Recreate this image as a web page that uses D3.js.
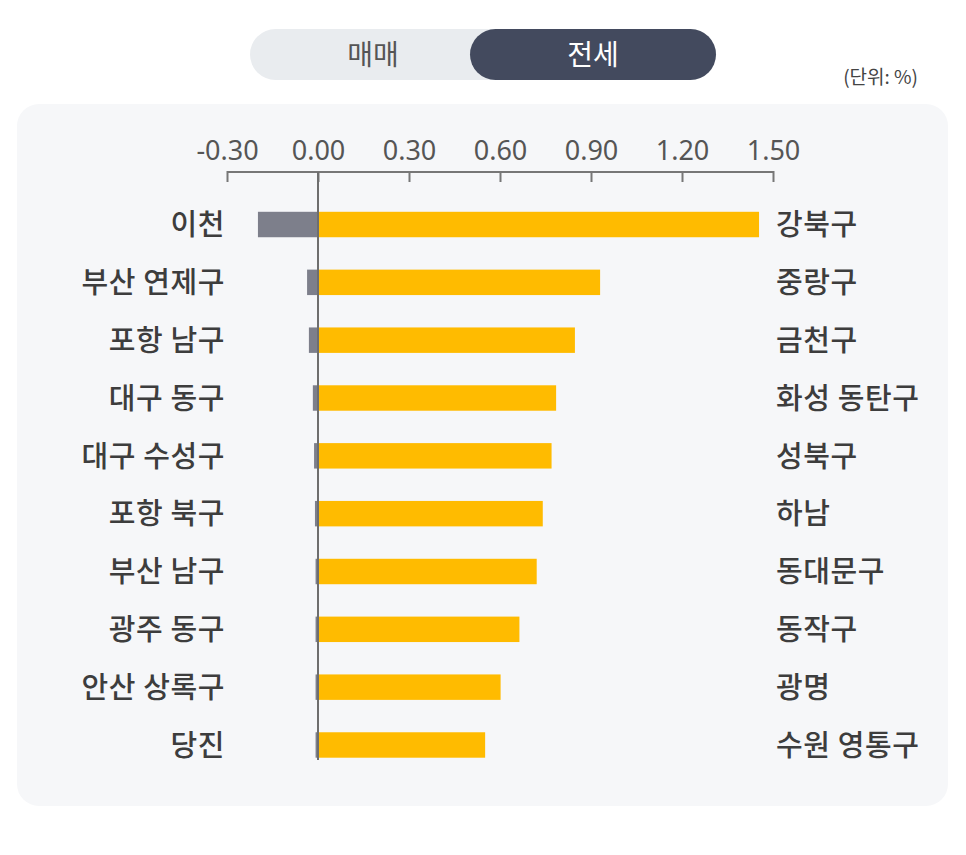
<!DOCTYPE html>
<html>
<head>
<meta charset="utf-8">
<script src="https://cdn.jsdelivr.net/npm/d3@7"></script>
<style>
  body { margin: 0; background: #fff; }
  svg { display: block; font-family: "Noto Sans CJK KR", "Noto Sans", sans-serif; }
</style>
</head>
<body>
<svg id="drawing_region"></svg>
<script>
// 전세 변동률 (%)
const leftNames = ["이천", "부산 연제구", "포항 남구", "대구 동구", "대구 수성구", "포항 북구", "부산 남구", "광주 동구", "안산 상록구", "당진"];
const leftValues = [-0.198, -0.036, -0.030, -0.017, -0.013, -0.010, -0.008, -0.008, -0.008, -0.008];
const rightNames = ["강북구", "중랑구", "금천구", "화성 동탄구", "성북구", "하남", "동대문구", "동작구", "광명", "수원 영통구"];
const rightValues = [1.454, 0.930, 0.847, 0.785, 0.770, 0.741, 0.721, 0.664, 0.602, 0.551];
const tickValues = [-0.30, 0.00, 0.30, 0.60, 0.90, 1.20, 1.50];
const tabs = ["매매", "전세"];
const unitLabel = "(단위: %)";

const config = {
    width: 966,
    height: 855
};

const svg = d3.select('#drawing_region')
    .attr('width', config.width)
    .attr('height', config.height);

// toggle
svg.append('rect')
    .attr('x', 250).attr('y', 29)
    .attr('width', 466).attr('height', 51)
    .attr('rx', 25.5)
    .attr('fill', '#e9ecef');

svg.append('rect')
    .attr('x', 470).attr('y', 29)
    .attr('width', 246).attr('height', 51)
    .attr('rx', 25.5)
    .attr('fill', '#434a5e');

svg.append('text')
    .attr('x', 373).attr('y', 65)
    .attr('text-anchor', 'middle')
    .attr('font-size', 28)
    .attr('fill', '#555')
    .text(tabs[0]);

svg.append('text')
    .attr('x', 593).attr('y', 65)
    .attr('text-anchor', 'middle')
    .attr('font-size', 28)
    .attr('fill', '#fff')
    .text(tabs[1]);

svg.append('text')
    .attr('x', 918).attr('y', 84)
    .attr('text-anchor', 'end')
    .attr('font-size', 19)
    .attr('fill', '#444')
    .text(unitLabel);

// panel
svg.append('rect')
    .attr('x', 17).attr('y', 104)
    .attr('width', 931).attr('height', 702)
    .attr('rx', 22)
    .attr('fill', '#f6f7f9');

const xscale = d3.scaleLinear()
    .domain([-0.30, 1.50])
    .range([227, 773]);

const yscale = d3.scaleBand()
    .domain(d3.range(leftNames.length))
    .range([195.6, 773.9])
    .paddingInner(0.56)
    .paddingOuter(0.28);

const xaxis = d3.axisTop(xscale)
    .tickValues(tickValues)
    .tickFormat(d => d.toFixed(2))
    .tickSize(0)
    .tickPadding(12);

const axisGroup = svg.append('g')
    .attr('transform', 'translate(0, 172)')
    .call(xaxis);

axisGroup.select('.domain').remove();
axisGroup.append('line')
    .attr('x1', xscale(-0.30)).attr('x2', xscale(1.50))
    .attr('stroke', '#777').attr('stroke-width', 2);
axisGroup.selectAll('.tick')
    .append('line')
    .attr('y1', -1).attr('y2', 10)
    .attr('stroke', '#777').attr('stroke-width', 2);
axisGroup.selectAll('.tick text')
    .attr('font-size', 27)
    .attr('font-family', '"Noto Sans", sans-serif')
    .attr('fill', '#555');

// bars
svg.append('g').selectAll('rect')
    .data(leftValues)
    .join('rect')
    .attr('x', d => xscale(d))
    .attr('y', (d, i) => yscale(i))
    .attr('width', d => xscale(0) - xscale(d))
    .attr('height', yscale.bandwidth())
    .attr('fill', '#7d7f8b');

svg.append('g').selectAll('rect')
    .data(rightValues)
    .join('rect')
    .attr('x', xscale(0))
    .attr('y', (d, i) => yscale(i))
    .attr('width', d => xscale(d) - xscale(0))
    .attr('height', yscale.bandwidth())
    .attr('fill', '#ffbb00');

// zero line
svg.append('line')
    .attr('x1', xscale(0)).attr('x2', xscale(0))
    .attr('y1', 172).attr('y2', 760)
    .attr('stroke', '#6e6e6e').attr('stroke-width', 2);

// labels
svg.append('g').selectAll('text')
    .data(leftNames)
    .join('text')
    .attr('x', 225)
    .attr('y', (d, i) => yscale(i) + yscale.bandwidth() / 2)
    .attr('dy', '0.37em')
    .attr('text-anchor', 'end')
    .attr('font-size', 29)
    .attr('font-weight', 500)
    .attr('letter-spacing', 0.6)
    .attr('fill', '#3d3d3d')
    .text(d => d);

svg.append('g').selectAll('text')
    .data(rightNames)
    .join('text')
    .attr('x', 776)
    .attr('y', (d, i) => yscale(i) + yscale.bandwidth() / 2)
    .attr('dy', '0.37em')
    .attr('font-size', 29)
    .attr('font-weight', 500)
    .attr('letter-spacing', 0.6)
    .attr('fill', '#3d3d3d')
    .text(d => d);
</script>
</body>
</html>
